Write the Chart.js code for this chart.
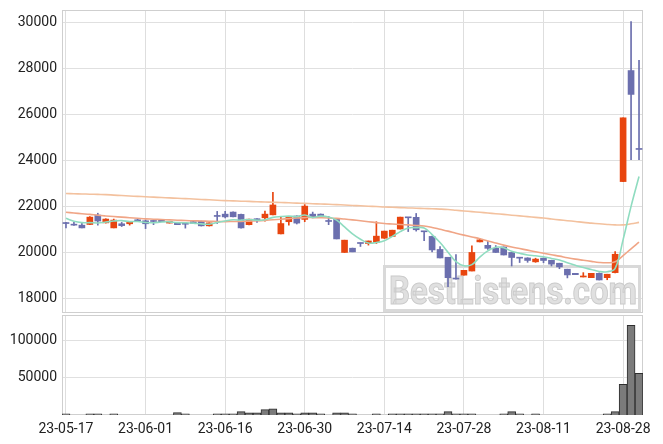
<!DOCTYPE html>
<html lang="ko">
<head>
<meta charset="UTF-8">
<title>Daily candles</title>
<script src="https://cdn.jsdelivr.net/npm/chart.js"></script>
<style>
  body { margin: 0; background: #fff; }
  #priceBox { position: absolute; left: 0; top: 0; width: 663px; height: 314px; }
  #volBox { position: absolute; left: 0; top: 314px; width: 663px; height: 130px; }
</style>
</head>
<body>
<div id="priceBox"><canvas id="priceChart"></canvas></div>
<div id="volBox"><canvas id="volChart"></canvas></div>

<script>
  // trading days
  const dates = [
    '23-05-17','23-05-18','23-05-19','23-05-22','23-05-23','23-05-24','23-05-25','23-05-26','23-05-30','23-05-31',
    '23-06-01','23-06-02','23-06-05','23-06-07','23-06-08','23-06-09','23-06-12','23-06-13','23-06-14','23-06-15',
    '23-06-16','23-06-19','23-06-20','23-06-21','23-06-22','23-06-23','23-06-26','23-06-27','23-06-28','23-06-29',
    '23-06-30','23-07-03','23-07-04','23-07-05','23-07-06','23-07-07','23-07-10','23-07-11','23-07-12','23-07-13',
    '23-07-14','23-07-17','23-07-18','23-07-19','23-07-20','23-07-21','23-07-24','23-07-25','23-07-26','23-07-27',
    '23-07-28','23-07-31','23-08-01','23-08-02','23-08-03','23-08-04','23-08-07','23-08-08','23-08-09','23-08-10',
    '23-08-11','23-08-14','23-08-16','23-08-17','23-08-18','23-08-21','23-08-22','23-08-23','23-08-24','23-08-25',
    '23-08-28','23-08-29','23-08-30'
  ];

  const opens = [
    21250,21180,21180,21210,21620,21280,21060,21240,21240,21410,
    21370,21340,21400,21270,21270,21220,21330,21350,21150,21560,
    21660,21750,21650,21200,21460,21500,21630,20800,21330,21580,
    21430,21660,21660,21340,21450,19990,20175,20380,20380,20420,
    20610,20690,21010,21500,21520,20890,20690,20120,19780,18830,
    19000,19180,20450,20300,20170,20230,19990,19740,19750,19580,
    19740,19650,19520,19260,19080,18920,18890,19080,18890,19110,
    23080,27920,24480
  ];
  const highs = [
    21300,21300,21300,21550,21700,21460,21445,21300,21310,21440,
    21410,21370,21410,21340,21280,21300,21340,21360,21280,21780,
    21780,21760,21660,21450,21470,21790,22610,21530,21530,21590,
    22080,21750,21670,21560,21460,20525,20180,20400,20490,21330,
    20920,20960,21530,21500,21690,20890,20700,20250,19780,19900,
    19210,20280,20580,20480,20290,20230,19990,19740,19760,19740,
    19750,19650,19520,19260,19080,19110,19080,19100,19040,20030,
    25860,30050,28370
  ];
  const lows = [
    21060,21170,21060,21200,21180,21270,21060,21120,21180,21350,
    21030,21200,21330,21270,21200,21050,21250,21140,21140,21250,
    21490,21540,21050,21190,21300,21350,21630,20800,21180,21230,
    21330,21500,21540,21200,20580,19990,20015,20250,20310,20380,
    20600,20690,21010,20900,20920,20500,20015,19750,18500,18830,
    19000,19180,20450,20120,19990,19880,19400,19550,19560,19560,
    19540,19400,19280,18880,19020,18920,18890,18790,18800,19100,
    23080,24030,24030
  ];
  const closes = [
    21250,21180,21060,21530,21360,21445,21400,21160,21310,21370,
    21240,21340,21330,21340,21200,21220,21260,21150,21280,21560,
    21540,21545,21060,21440,21370,21660,22060,21250,21530,21270,
    22010,21515,21550,21340,20580,20525,20015,20380,20490,20700,
    20920,20960,21530,21500,20980,20890,20100,19750,18890,18830,
    19210,19990,20540,20170,19990,19880,19770,19740,19640,19700,
    19640,19480,19360,19010,19020,18940,19080,18790,19040,19910,
    25860,26880,24480
  ];

  const volumes = [
    1500,0,0,1500,1500,0,1500,0,0,0,
    0,0,0,0,3200,1500,0,0,0,1500,
    1500,1500,4500,3000,3000,7200,8400,3000,3000,1500,
    3000,3000,1500,0,3000,3000,1500,0,0,1500,
    0,1500,1500,1500,1500,1500,1500,1500,4500,1500,
    1500,1500,0,0,0,1500,4500,1500,0,1500,
    0,0,0,0,0,0,0,0,1500,4500,
    41300,120900,56100
  ];

  // moving averages as drawn on the chart
  const ma5 = [
    21480,21350,21290,21290,21276,21315,21359,21379,21335,21337,
    21296,21284,21318,21324,21290,21286,21270,21234,21222,21294,
    21358,21415,21397,21429,21391,21415,21518,21556,21574,21554,
    21624,21515,21575,21537,21399,21102,20802,20568,20398,20422,
    20501,20690,20898,21058,21070,21056,20770,20420,20002,19590,
    19412,19460,19790,20058,20214,20192,20038,19952,19882,19846,
    19800,19730,19660,19540,19430,19330,19250,19160,19150,19300,
    20550,22000,23300
  ];
  const ma20 = [
    21740,21710,21680,21650,21610,21580,21555,21530,21505,21480,
    21455,21440,21425,21410,21395,21380,21370,21360,21350,21340,
    21335,21340,21345,21355,21370,21390,21415,21440,21465,21490,
    21510,21510,21505,21495,21475,21445,21410,21370,21330,21290,
    21250,21230,21210,21190,21165,21140,21080,21000,20920,20830,
    20745,20665,20590,20490,20400,20310,20230,20160,20090,20020,
    19955,19890,19830,19760,19700,19650,19600,19555,19540,19580,
    19850,20150,20440
  ];
  const ma60 = [
    22560,22550,22540,22530,22520,22510,22490,22470,22450,22435,
    22420,22400,22385,22370,22350,22335,22320,22300,22285,22265,
    22250,22240,22225,22215,22200,22190,22180,22165,22155,22140,
    22130,22115,22100,22090,22075,22060,22040,22025,22005,21990,
    21970,21960,21945,21930,21920,21905,21895,21880,21860,21830,
    21800,21770,21740,21710,21680,21650,21615,21585,21550,21520,
    21490,21450,21410,21375,21340,21300,21270,21240,21210,21190,
    21190,21240,21300
  ];

  const priceTicks = [18000, 20000, 22000, 24000, 26000, 28000, 30000];
  const volumeTicks = [50000, 100000];

  const upColor = '#e8450f';
  const downColor = '#6b6fae';
  const candleColors = closes.map((c, i) => c > opens[i] ? upColor : downColor);
  const bodies = opens.map((o, i) => [o, closes[i]]);
  const wicks = lows.map((l, i) => [l, highs[i]]);

  const tickFont = { family: 'Roboto', size: 14 };
  const gridX = ctx => ctx.index % 10 === 0 ? '#dedede' : 'rgba(0,0,0,0)';
  const plainNumber = v => String(v);

  // y axis: fixed width, no extra padding for the label halves
  const fitY = s => {
    s.width = 62;
    s.paddingTop = 0;
    s.paddingBottom = 0;
  };

  const frame = {
    id: 'frame',
    beforeDatasetsDraw(chart) {
      const a = chart.chartArea;
      const ctx = chart.ctx;
      ctx.save();
      ctx.strokeStyle = '#cfcfcf';
      ctx.lineWidth = 1;
      ctx.strokeRect(a.left + 0.5, a.top + 0.5, a.right - a.left - 1, a.bottom - a.top - 1);
      ctx.restore();
    }
  };

  const watermark = {
    id: 'watermark',
    beforeDatasetsDraw(chart) {
      const ctx = chart.ctx;
      ctx.save();
      ctx.strokeStyle = '#d9d9d9';
      ctx.lineWidth = 3;
      ctx.strokeRect(384.5, 266.5, 255, 44);
      ctx.font = 'bold 38px Roboto';
      const text = 'BestListens.com';
      const w = ctx.measureText(text).width;
      ctx.translate(389, 304);
      ctx.scale(248 / w, 1);
      ctx.fillStyle = '#e0e0e0';
      ctx.fillText(text, 0, 0);
      ctx.strokeStyle = '#cbcbcb';
      ctx.lineWidth = 1;
      ctx.strokeText(text, 0, 0);
      ctx.restore();
    }
  };

  new Chart(document.getElementById('priceChart'), {
    type: 'bar',
    data: {
      labels: dates,
      datasets: [
        { type: 'line', label: 'MA5', data: ma5, borderColor: '#8fdcc0', borderWidth: 1.6, pointRadius: 0, tension: 0.4, order: 0 },
        { type: 'line', label: 'MA20', data: ma20, borderColor: '#f0a586', borderWidth: 1.6, pointRadius: 0, tension: 0.4, order: 0 },
        { type: 'line', label: 'MA60', data: ma60, borderColor: '#f3c19e', borderWidth: 1.6, pointRadius: 0, tension: 0.4, order: 0 },
        { label: 'body', data: bodies, backgroundColor: candleColors, barThickness: 6, minBarLength: 1, grouped: false, order: 1 },
        { label: 'wick', data: wicks, backgroundColor: candleColors, barThickness: 1, grouped: false, order: 2 }
      ]
    },
    options: {
      responsive: true,
      maintainAspectRatio: false,
      animation: false,
      layout: { padding: { top: 10, right: 20, bottom: 1, left: 0 } },
      plugins: { legend: { display: false }, tooltip: { enabled: false } },
      scales: {
        x: {
          offset: true,
          grid: { offset: false, drawTicks: false, color: gridX },
          border: { display: false },
          ticks: { display: false },
          afterFit: s => { s.height = 0; }
        },
        y: {
          min: 17350,
          max: 30560,
          afterBuildTicks: s => { s.ticks = priceTicks.map(v => ({ value: v })); },
          grid: { drawTicks: false, color: '#e0e0e0' },
          border: { display: false },
          ticks: { padding: 5, font: tickFont, color: '#222', callback: plainNumber },
          afterFit: fitY
        }
      }
    },
    plugins: [frame, watermark]
  });

  new Chart(document.getElementById('volChart'), {
    type: 'bar',
    data: {
      labels: dates,
      datasets: [{
        label: 'volume',
        data: volumes,
        backgroundColor: '#7b7b7b',
        borderColor: '#2e2e2e',
        borderWidth: 1,
        barPercentage: 1,
        categoryPercentage: 1
      }]
    },
    options: {
      responsive: true,
      maintainAspectRatio: false,
      animation: false,
      layout: { padding: { top: 1, right: 20, bottom: 0, left: 0 } },
      plugins: { legend: { display: false }, tooltip: { enabled: false } },
      scales: {
        x: {
          grid: { offset: false, drawTicks: false, color: gridX },
          border: { display: false },
          ticks: {
            autoSkip: false,
            maxRotation: 0,
            padding: 6,
            font: tickFont,
            color: '#222',
            callback: (v, i) => i % 10 === 0 ? dates[i] : ''
          },
          afterFit: s => { s.height = 29; }
        },
        y: {
          min: 0,
          max: 135000,
          afterBuildTicks: s => { s.ticks = volumeTicks.map(v => ({ value: v })); },
          grid: { drawTicks: false, color: '#e0e0e0' },
          border: { display: false },
          ticks: { padding: 5, font: tickFont, color: '#222', callback: plainNumber },
          afterFit: fitY
        }
      }
    },
    plugins: [frame]
  });
</script>
</body>
</html>
